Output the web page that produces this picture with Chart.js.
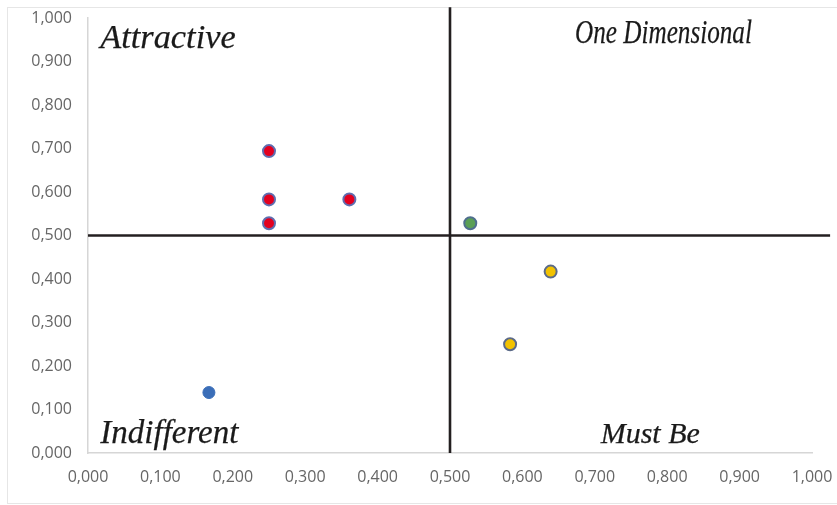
<!DOCTYPE html>
<html>
<head>
<meta charset="utf-8">
<script src="https://cdn.jsdelivr.net/npm/chart.js@4.4.1/dist/chart.umd.min.js"></script>
<style>
  html, body { margin: 0; padding: 0; background: #fff; }
  #wrap { position: relative; width: 837px; height: 505px; }
  #frame { position: absolute; left: 7px; top: 7px; right: -2px; bottom: 1px; border: 1px solid #e6e6e6; border-right: none; }
  canvas { position: absolute; left: 0; top: 0; }
</style>
</head>
<body>
<div id="wrap">
  <div id="frame"></div>
  <canvas id="kano" width="837" height="505"></canvas>
</div>
<script>
// Kano quadrant values (x = satisfaction, y = dissatisfaction)
var attractivePts = [
    { x: 0.250, y: 0.694 },
    { x: 0.250, y: 0.583 },
    { x: 0.250, y: 0.528 },
    { x: 0.361, y: 0.583 }
];
var oneDimPts = [{ x: 0.528, y: 0.528 }];
var mustBePts = [
    { x: 0.639, y: 0.417 },
    { x: 0.583, y: 0.250 }
];
var indifferentPts = [{ x: 0.167, y: 0.139 }];

var tickValues = [0, 0.1, 0.2, 0.3, 0.4, 0.5, 0.6, 0.7, 0.8, 0.9, 1.0];
var split = 0.5;
var lineEnd = 1.025;

var quadrantLabels = [
    { text: "Attractive", x: 0.017, y: 0.931, align: "left", font: "italic 33px 'Liberation Serif'", squeeze: 1.04 },
    { text: "One Dimensional", x: 0.917, y: 0.943, align: "right", font: "italic 34px 'Liberation Serif'", squeeze: 0.74 },
    { text: "Indifferent", x: 0.017, y: 0.023, align: "left", font: "italic 33px 'Liberation Serif'", squeeze: 1.0 },
    { text: "Must Be", x: 0.845, y: 0.023, align: "right", font: "italic 30px 'Liberation Serif'", squeeze: 1 }
];

function fmt(v) {
    return v.toFixed(3).replace(".", ",");
}

var labelPlugin = {
    id: "quadrantLabels",
    afterDatasetsDraw: function(chart) {
        var ctx = chart.ctx,
            xs = chart.scales.x,
            ys = chart.scales.y;
        ctx.save();
        ctx.fillStyle = "#1a1a1a";
        ctx.strokeStyle = "#1a1a1a";
        ctx.lineWidth = 0.25;
        ctx.textBaseline = "alphabetic";
        quadrantLabels.forEach(function(l) {
            ctx.save();
            ctx.translate(xs.getPixelForValue(l.x), ys.getPixelForValue(l.y));
            ctx.scale(l.squeeze, 1);
            ctx.font = l.font;
            ctx.textAlign = l.align;
            ctx.fillText(l.text, 0, 0);
            ctx.strokeText(l.text, 0, 0);
            ctx.restore();
        });
        ctx.restore();
    }
};

function pointSet(label, data, fill, border, bw) {
    return {
        label: label,
        data: data,
        backgroundColor: fill,
        borderColor: border,
        borderWidth: bw,
        pointRadius: 6,
        pointHoverRadius: 6
    };
}

function lineSet(data) {
    return {
        label: "split",
        data: data,
        showLine: true,
        borderColor: "#231f20",
        borderWidth: 2.6,
        pointRadius: 0,
        pointHoverRadius: 0,
        clip: false
    };
}

new Chart(document.getElementById("kano"), {
    type: "scatter",
    data: {
        datasets: [
            pointSet("Attractive", attractivePts, "#e3001f", "#5f6db0", 2),
            pointSet("One Dimensional", oneDimPts, "#5a9f55", "#4f6e8e", 2),
            pointSet("Must Be", mustBePts, "#f2c200", "#5b6a88", 2),
            pointSet("Indifferent", indifferentPts, "#3b6eb8", "#3b6eb8", 1),
            lineSet([{ x: 0, y: split }, { x: lineEnd, y: split }]),
            lineSet([{ x: split, y: 0 }, { x: split, y: lineEnd }])
        ]
    },
    options: {
        responsive: false,
        animation: false,
        events: [],
        layout: { padding: { left: 0, right: 25, top: 18, bottom: 0 } },
        plugins: {
            legend: { display: false },
            tooltip: { enabled: false }
        },
        scales: {
            x: {
                type: "linear",
                min: 0,
                max: 1,
                afterBuildTicks: function(axis) {
                    axis.ticks = tickValues.map(function(v) { return { value: v }; });
                },
                afterFit: function(axis) {
                    axis.height = 52;
                    axis.paddingLeft = 0;
                    axis.paddingRight = 0;
                },
                grid: { display: false, drawTicks: false },
                border: { display: true, color: "#d6d6d6", width: 1.5 },
                ticks: {
                    padding: 15,
                    color: "#666666",
                    font: { family: "'Open Sans'", size: 16 },
                    callback: function(v) { return fmt(v); }
                }
            },
            y: {
                type: "linear",
                min: 0,
                max: 1,
                afterBuildTicks: function(axis) {
                    axis.ticks = tickValues.map(function(v) { return { value: v }; });
                },
                afterFit: function(axis) {
                    axis.width = 88;
                    axis.paddingTop = 0;
                    axis.paddingBottom = 0;
                },
                grid: { display: false, drawTicks: false },
                border: { display: true, color: "#d6d6d6", width: 1.5 },
                ticks: {
                    padding: 16,
                    color: "#666666",
                    font: { family: "'Open Sans'", size: 16 },
                    callback: function(v) { return fmt(v); }
                }
            }
        }
    },
    plugins: [labelPlugin]
});
</script>
</body>
</html>
